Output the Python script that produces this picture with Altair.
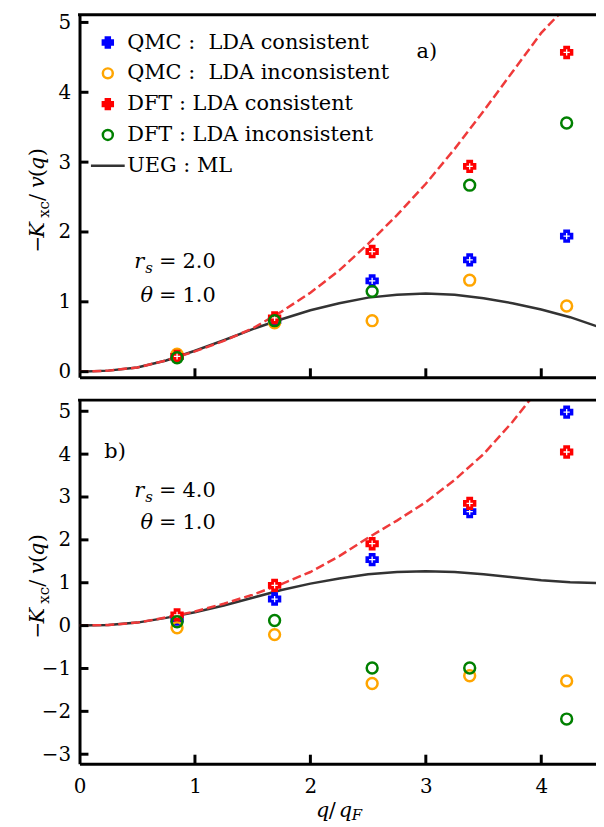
import altair as alt
import pandas as pd

FONT = "DejaVu Serif"

# ---------------- data ----------------
q_points = [0.845, 1.69, 2.535, 3.38, 4.22]
series_labels = ["QMC :\u00a0 LDA consistent", "QMC :\u00a0 LDA inconsistent",
                 "DFT : LDA consistent", "DFT : LDA inconsistent", "UEG : ML"]

a_qmc_cons = [0.22, 0.73, 1.30, 1.60, 1.94]
a_qmc_incons = [0.25, 0.70, 0.73, 1.31, 0.94]
a_dft_cons = [0.22, 0.77, 1.72, 2.94, 4.57]
a_dft_incons = [0.20, 0.73, 1.15, 2.67, 3.56]

b_qmc_cons = [0.15, 0.62, 1.54, 2.66, 4.98]
b_qmc_incons = [-0.05, -0.21, -1.35, -1.17, -1.29]
b_dft_cons = [0.25, 0.94, 1.91, 2.85, 4.05]
b_dft_incons = [0.09, 0.12, -0.99, -0.99, -2.18]

ml_q = [0.0, 0.25, 0.5, 0.75, 1.0, 1.25, 1.5, 1.75, 2.0, 2.25, 2.5, 2.75,
        3.0, 3.25, 3.5, 3.75, 4.0, 4.25, 4.5]
a_ueg_ml = [0.0, 0.015, 0.06, 0.16, 0.30, 0.45, 0.61, 0.75, 0.88, 0.98, 1.06,
            1.10, 1.12, 1.10, 1.05, 0.98, 0.89, 0.78, 0.64]
b_ueg_ml = [0.0, 0.015, 0.07, 0.18, 0.31, 0.47, 0.65, 0.83, 0.98, 1.10, 1.20,
            1.25, 1.27, 1.25, 1.20, 1.13, 1.06, 1.01, 0.99]

a_lda_q = [0.0, 0.25, 0.5, 0.75, 1.0, 1.25, 1.5, 1.75, 2.0, 2.25, 2.5, 2.75,
           3.0, 3.25, 3.5, 3.75, 4.0, 4.15]
a_lda = [0.0, 0.015, 0.06, 0.16, 0.29, 0.44, 0.62, 0.86, 1.13, 1.45, 1.83,
         2.24, 2.69, 3.19, 3.73, 4.29, 4.85, 5.11]
b_lda_q = [0.0, 0.25, 0.5, 0.75, 1.0, 1.25, 1.5, 1.75, 2.0, 2.25, 2.5, 2.75,
           3.0, 3.25, 3.5, 3.75, 3.9]
b_lda = [0.0, 0.015, 0.07, 0.19, 0.33, 0.51, 0.72, 0.97, 1.25, 1.62, 2.05,
         2.45, 2.88, 3.40, 4.00, 4.75, 5.26]

x_tick_values = [1, 2, 3, 4]
x_label_values = [0, 1, 2, 3, 4]
a_y_ticks = [0, 1, 2, 3, 4, 5]
b_y_ticks = [-3, -2, -1, 0, 1, 2, 3, 4, 5]
panel_tags = ["a)", "b)"]
panel_rs = ["2.0", "4.0"]
panel_theta = ["1.0", "1.0"]

# ---------------- styling ----------------
W = 523
SHAPES = ["cross", "circle", "cross", "circle", "M-3.4,0L3.4,0"]
FILLS = ["#0000ff", "transparent", "#ff0000", "transparent", "transparent"]
STROKES = ["#0000ff", "#ffa500", "#ff0000", "#008000", "#333333"]


def xenc(show_labels):
    return alt.X("x:Q", scale=alt.Scale(domain=[0, 4.5], nice=False, zero=False),
                 axis=alt.Axis(values=x_label_values, labels=show_labels, ticks=False,
                               grid=False, title=None, domain=True, domainColor="black",
                               domainWidth=3, labelFont=FONT, labelFontSize=20,
                               labelColor="black", labelPadding=13, labelFlush=False,
                               labelOverlap=False))


def yenc(domain, ticks):
    return alt.Y("y:Q", scale=alt.Scale(domain=domain, nice=False, zero=False),
                 axis=alt.Axis(values=ticks, ticks=False, grid=False, title=None,
                               domain=True, domainColor="black", domainWidth=3,
                               labelFont=FONT, labelFontSize=20, labelColor="black",
                               labelPadding=9, labelOverlap=False))


def panel(idx, pts, ml, lda_q, lda, ydomain, yticks, H, tag_xy, rs_y, th_y, show_x, show_legend):
    X = xenc(show_x)
    Y = yenc(ydomain, yticks)
    layers = []
    layers.append(alt.Chart(pd.DataFrame({"x": ml_q, "y": ml}))
                  .mark_line(color="#333333", strokeWidth=2.5).encode(x=X, y=Y))
    layers.append(alt.Chart(pd.DataFrame({"x": lda_q, "y": lda}))
                  .mark_line(color="#ef3a3a", strokeWidth=2.5, strokeDash=[9, 4], clip=True)
                  .encode(x=X, y=Y))
    leg = alt.Legend(orient="none", legendX=18, legendY=17.5, title=None, padding=0,
                     symbolSize=100, symbolStrokeWidth=2.5, symbolOpacity=1,
                     labelFont=FONT, labelFontSize=21, labelColor="black",
                     labelOffset=9, rowPadding=9, labelLimit=500) if show_legend else None
    for k, vals in enumerate(pts):
        df = pd.DataFrame({"x": q_points, "y": vals, "series": series_labels[k]})
        layers.append(alt.Chart(df).mark_point(size=120, strokeWidth=2.5, opacity=1).encode(
            x=X, y=Y,
            shape=alt.Shape("series:N", scale=alt.Scale(domain=series_labels, range=SHAPES), legend=leg),
            fill=alt.Fill("series:N", scale=alt.Scale(domain=series_labels, range=FILLS), legend=leg),
            stroke=alt.Stroke("series:N", scale=alt.Scale(domain=series_labels, range=STROKES), legend=leg),
        ))
        if SHAPES[k] == "cross":
            layers.append(alt.Chart(df).mark_point(shape="M-1,0L1,0M0,-1L0,1", size=40,
                                                   stroke="white", strokeWidth=1.3,
                                                   filled=False, opacity=1).encode(x=X, y=Y))
    # inward ticks and top frame
    layers.append(alt.Chart(pd.DataFrame({"y": yticks})).mark_rule(color="black", strokeWidth=3)
                  .encode(y=Y, x=alt.value(0), x2=alt.value(9)))
    layers.append(alt.Chart(pd.DataFrame({"x": x_tick_values})).mark_rule(color="black", strokeWidth=3)
                  .encode(x=X, y=alt.value(H), y2=alt.value(H - 9)))
    layers.append(alt.Chart(pd.DataFrame({"x": [0]})).mark_rule(color="black", strokeWidth=3)
                  .encode(x=alt.value(-1.5), x2=alt.value(W), y=alt.value(0)))

    def txt(x, y, text, dx=0, dy=0, align="left", size=21, style="normal", baseline="middle"):
        return (alt.Chart(pd.DataFrame({"x": [x], "y": [y], "t": [text]}))
                .mark_text(font=FONT, fontSize=size, fontStyle=style, color="black",
                           align=align, baseline=baseline, dx=dx, dy=dy)
                .encode(x=X, y=Y, text="t:N"))

    layers.append(txt(tag_xy[0], tag_xy[1], panel_tags[idx]))
    ax = 1.18
    layers.append(txt(ax, rs_y, "r", dx=-72, align="right", style="italic"))
    layers.append(txt(ax, rs_y, "s", dx=-71, dy=6, align="left", size=15, style="italic"))
    layers.append(txt(ax, rs_y, "=", dx=-57, align="left"))
    layers.append(txt(ax, rs_y, panel_rs[idx], align="right"))
    layers.append(txt(ax, th_y, "θ", dx=-63, align="right", style="italic"))
    layers.append(txt(ax, th_y, "=", dx=-57, align="left"))
    layers.append(txt(ax, th_y, panel_theta[idx], align="right"))

    # rotated y title pieces:  -K_xc / v(q)
    pieces = [("\u2212", 57, 0, 20, "normal"), ("K", 42, 0, 21, "italic"),
              ("xc", 22, 5, 15, "normal"), ("/", 5, 0, 21, "normal"),
              ("v", -8, 0, 21, "italic"), ("(", -19, 0, 21, "normal"),
              ("q", -26, 0, 21, "italic"), (")", -40, 0, 21, "normal")]
    for t, off, shift, size, style in pieces:
        layers.append(alt.Chart(pd.DataFrame({"t": [t]}))
                      .mark_text(font=FONT, fontSize=size, fontStyle=style, color="black",
                                 angle=270, align="left", baseline="alphabetic")
                      .encode(x=alt.value(-36 + shift), y=alt.value(H / 2 + off), text="t:N"))
    if show_x:
        xpieces = [("q", 238, 0, 21, "italic"), ("/", 251, 0, 21, "normal"),
                   ("q", 261, 0, 21, "italic"), ("F", 274, 3, 15, "italic")]
        for t, px, shift, size, style in xpieces:
            layers.append(alt.Chart(pd.DataFrame({"t": [t]}))
                          .mark_text(font=FONT, fontSize=size, fontStyle=style, color="black",
                                     align="left", baseline="alphabetic")
                          .encode(x=alt.value(px), y=alt.value(H + 54 + shift), text="t:N"))
    return alt.layer(*layers).properties(width=W, height=H)


pa = panel(0, [a_qmc_cons, a_qmc_incons, a_dft_cons, a_dft_incons], a_ueg_ml, a_lda_q, a_lda,
           [-0.08, 5.11], a_y_ticks, 365, (2.92, 4.57), 1.57, 1.09, False, True)
pb = panel(1, [b_qmc_cons, b_qmc_incons, b_dft_cons, b_dft_incons], b_ueg_ml, b_lda_q, b_lda,
           [-3.22, 5.26], b_y_ticks, 366, (0.215, 4.05), 3.13, 2.40, True, False)

chart = (alt.vconcat(pa, pb, spacing=16)
         .resolve_scale(x="independent", y="independent", shape="independent",
                        fill="independent", stroke="independent")
         .resolve_legend(shape="independent", fill="independent", stroke="independent")
         .properties(padding={"left": 19, "top": 1, "right": -8, "bottom": 0})
         .configure_view(stroke=None))

chart.save("out.html", embed_options={"renderer": "svg", "actions": False})
